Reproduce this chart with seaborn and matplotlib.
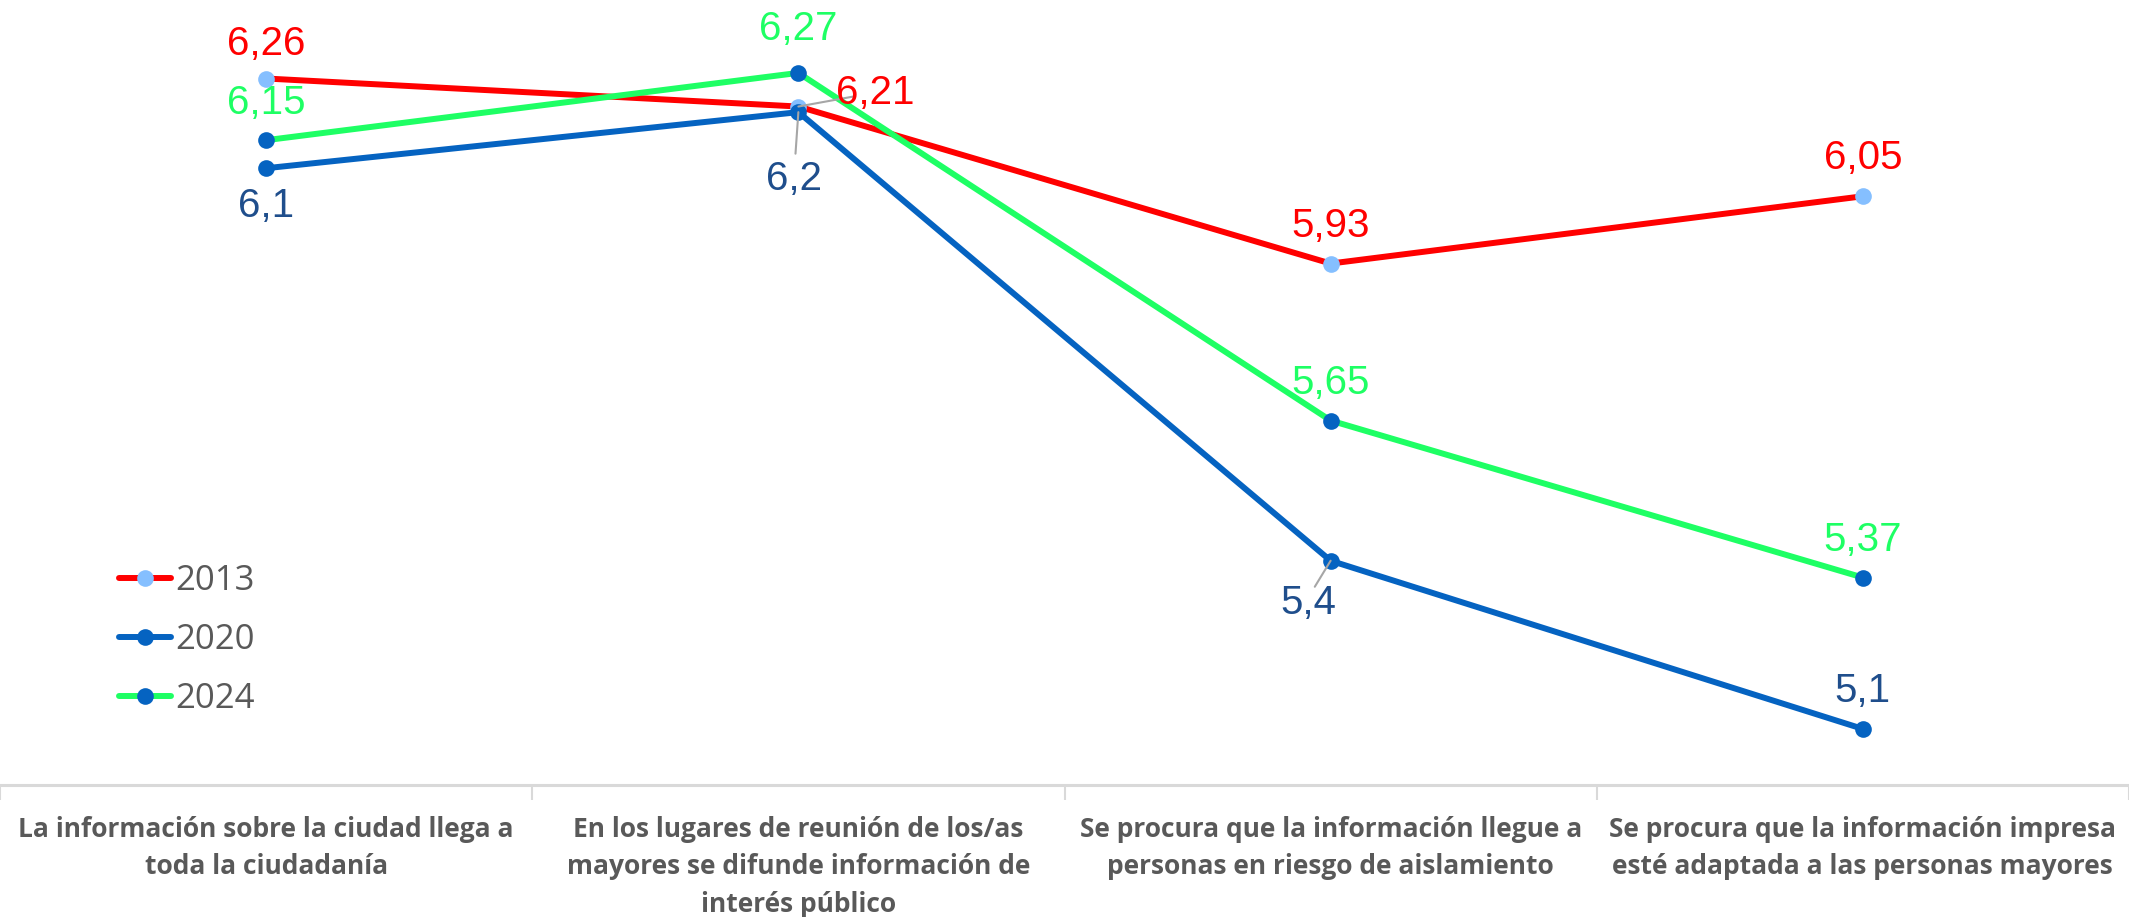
import matplotlib
matplotlib.use("Agg")
import matplotlib.pyplot as plt
import seaborn as sns
import pandas as pd

categories = [
    "La información sobre la ciudad llega a toda la ciudadanía",
    "En los lugares de reunión de los/as mayores se difunde información de interés público",
    "Se procura que la información llegue a personas en riesgo de aislamiento",
    "Se procura que la información impresa esté adaptada a las personas mayores",
]
tick_labels = [
    "La información sobre la ciudad llega a\ntoda la ciudadanía",
    "En los lugares de reunión de los/as\nmayores se difunde información de\ninterés público",
    "Se procura que la información llegue a\npersonas en riesgo de aislamiento",
    "Se procura que la información impresa\nesté adaptada a las personas mayores",
]
years = ["2013", "2020", "2024"]
values_2013 = [6.26, 6.21, 5.93, 6.05]
values_2020 = [6.1, 6.2, 5.4, 5.1]
values_2024 = [6.15, 6.27, 5.65, 5.37]

sns.set_theme(style="white")
plt.rcParams['font.family'] = ['Liberation Sans', 'DejaVu Sans']

series = {"2013": values_2013, "2020": values_2020, "2024": values_2024}
line_colors = {"2013": "#FF0000", "2020": "#0563C1", "2024": "#1EFF64"}
marker_colors = {"2013": "#85BFFF", "2020": "#0563C1", "2024": "#0563C1"}
label_colors = {"2013": "#FF0000", "2020": "#1F4E8C", "2024": "#1EFF64"}

# label offsets in pixels (dx, dy) and whether a leader line is drawn
offsets = {
    "2013": [(0, 35, False), (77, 14, True), (0, 38, False), (0, 38, False)],
    "2020": [(0, -38, False), (-4, -67, True), (-22, -42, True), (0, 38, False)],
    "2024": [(0, 37, False), (0, 44, False), (0, 38, False), (0, 38, False)],
}

fig = plt.figure(figsize=(21.29, 9.17), dpi=100)
ax = fig.add_axes([0.0, 1 - 785 / 917, 1.0, 785 / 917])

for yr in years:
    df = pd.DataFrame({"cat": categories, "val": series[yr]})
    sns.lineplot(data=df, x="cat", y="val", sort=False, ax=ax,
                 color=line_colors[yr], linewidth=4.3, marker="o",
                 markersize=12, markerfacecolor=marker_colors[yr],
                 markeredgecolor=marker_colors[yr], markeredgewidth=0,
                 label=yr, legend=False)

for yr in years:
    for i, v in enumerate(series[yr]):
        dx, dy, leader = offsets[yr][i]
        txt = f"{v:g}".replace(".", ",")
        ax.annotate(txt, xy=(i, v), xytext=(dx, dy), textcoords="offset pixels",
                    ha="center", va="center", fontsize=29,
                    color=label_colors[yr], zorder=5)
        if leader:
            sx = dx * 0.72
            sy = dy * 0.72 if dy > 0 else dy * 0.62
            ax.annotate("", xy=(i, v), xytext=(sx, sy), textcoords="offset pixels",
                        arrowprops=dict(arrowstyle="-", color="#A6A6A6", lw=1.5,
                                        shrinkA=0, shrinkB=0), zorder=4)

ax.set_xlim(-0.5, 3.5)
ax.set_ylim(5.0, 6.4)
ax.set_xlabel("")
ax.set_ylabel("")
ax.set_yticks([])
ax.set_xticks(range(len(categories)))
ax.set_xticklabels(tick_labels, fontsize=19, fontweight="bold", color="#595959",
                   family=["Open Sans", "DejaVu Sans"], linespacing=1.5, va="top")
ax.tick_params(axis="x", which="major", length=0, pad=22)
ax.set_xticks([-0.5, 0.5, 1.5, 2.5, 3.5], minor=True)
ax.tick_params(axis="x", which="minor", length=11, width=1.5, color="#D9D9D9",
               direction="out", bottom=True)
for s in ["top", "left", "right"]:
    ax.spines[s].set_visible(False)
ax.spines["bottom"].set_color("#D9D9D9")
ax.spines["bottom"].set_linewidth(2.2)
ax.grid(False)

handles, labels = ax.get_legend_handles_labels()
leg = fig.legend(handles, labels, loc="upper left",
                 bbox_to_anchor=(88 / 2129, 1 - 533 / 917),
                 frameon=False, handlelength=1.5,
                 handletextpad=0.12, labelspacing=0.72,
                 prop={"family": ["Open Sans", "DejaVu Sans"], "size": 25})
for t in leg.get_texts():
    t.set_color("#595959")

fig.savefig("out.png", dpi=100)
